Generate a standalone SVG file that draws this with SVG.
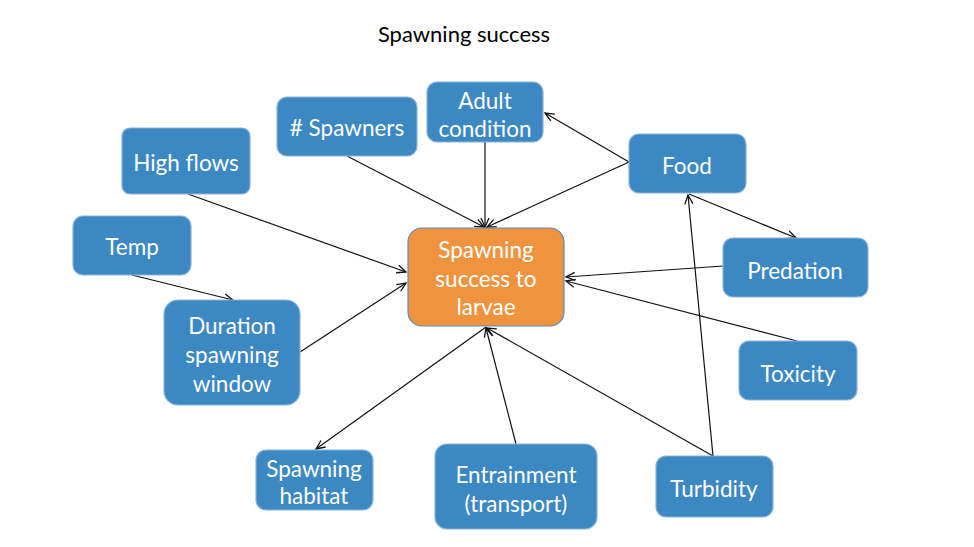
<svg xmlns="http://www.w3.org/2000/svg" width="974" height="547" viewBox="0 0 974 547">
<defs>
<style>
.n rect{fill:#3b88c3;stroke:#8bb3d9;stroke-width:1.2}
.c rect{fill:#f0933f;stroke:#5b89bd;stroke-width:1.2}
.n text,.c text{fill:#fff;font-family:Lato,"Liberation Sans",sans-serif;font-size:22.5px;text-anchor:middle}
.t{fill:#000;font-family:Lato,"Liberation Sans",sans-serif;font-size:22px;text-anchor:middle}
#edges line{stroke:#111;stroke-width:1.2;marker-end:url(#ah)}
</style>
<marker id="ah" markerUnits="userSpaceOnUse" markerWidth="12" markerHeight="10" refX="10" refY="5" orient="auto">
<path d="M1,1 L10,5 L1,9" fill="none" stroke="#111" stroke-width="1.3"/>
</marker>
</defs>
<rect width="974" height="547" fill="#fff"/>
<text class="t" x="464" y="42">Spawning success</text>
<g id="edges">
<line x1="188" y1="194" x2="406" y2="272"/>
<line x1="300" y1="352" x2="406" y2="283"/>
<line x1="132" y1="275" x2="233" y2="300"/>
<line x1="347" y1="156" x2="484" y2="227"/>
<line x1="485" y1="142" x2="485" y2="227"/>
<line x1="629" y1="162" x2="487" y2="227"/>
<line x1="629" y1="162" x2="545" y2="113"/>
<line x1="689" y1="194" x2="796" y2="238"/>
<line x1="723" y1="266" x2="566" y2="277"/>
<line x1="797" y1="341" x2="566" y2="281"/>
<line x1="713" y1="456" x2="487" y2="328"/>
<line x1="713" y1="456" x2="688" y2="195"/>
<line x1="516" y1="444" x2="486" y2="328"/>
<line x1="486" y1="327" x2="316" y2="449"/>
</g>
<g id="spawners" class="n"><rect x="277" y="97" width="140" height="59" rx="10"/><text x="347" y="136">&#35; Spawners</text></g>
<g id="adult" class="n"><rect x="427" y="82" width="116" height="60" rx="10"/><text x="485" y="109">Adult</text><text x="485" y="137">condition</text></g>
<g id="highflows" class="n"><rect x="122" y="128" width="128" height="66" rx="8"/><text x="186" y="171">High flows</text></g>
<g id="temp" class="n"><rect x="73" y="216" width="118" height="59" rx="10"/><text x="132" y="255">Temp</text></g>
<g id="duration" class="n"><rect x="164" y="300" width="136" height="105" rx="14"/><text x="232" y="334">Duration</text><text x="232" y="363">spawning</text><text x="232" y="392">window</text></g>
<g id="center" class="c"><rect x="408" y="228" width="156" height="98" rx="14"/><text x="486" y="258">Spawning</text><text x="486" y="287">success to</text><text x="486" y="315">larvae</text></g>
<g id="food" class="n"><rect x="629" y="134" width="117" height="59" rx="10"/><text x="687" y="174">Food</text></g>
<g id="predation" class="n"><rect x="723" y="238" width="145" height="59" rx="10"/><text x="795" y="279">Predation</text></g>
<g id="toxicity" class="n"><rect x="739" y="341" width="118" height="59" rx="10"/><text x="798" y="382">Toxicity</text></g>
<g id="habitat" class="n"><rect x="256" y="450" width="117" height="60" rx="10"/><text x="314" y="477">Spawning</text><text x="314" y="504">habitat</text></g>
<g id="entrainment" class="n"><rect x="435" y="444" width="162" height="85" rx="12"/><text x="516" y="483">Entrainment</text><text x="516" y="512">(transport)</text></g>
<g id="turbidity" class="n"><rect x="656" y="456" width="117" height="61" rx="10"/><text x="714" y="497">Turbidity</text></g>
</svg>
